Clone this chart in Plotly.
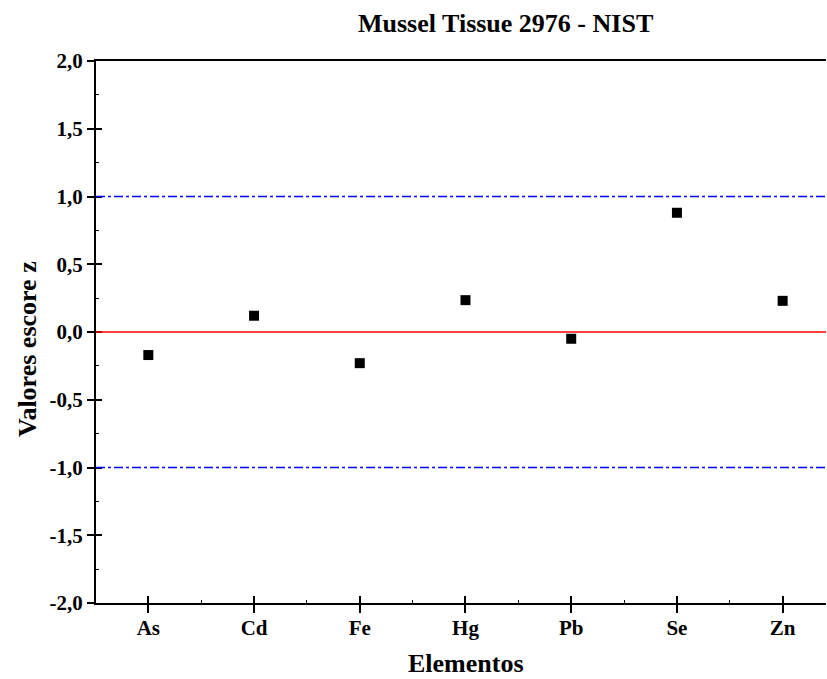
import plotly.graph_objects as go

elementos = ["As", "Cd", "Fe", "Hg", "Pb", "Se", "Zn"]
z_scores = [-0.17, 0.12, -0.23, 0.235, -0.05, 0.88, 0.23]
y_ticks = [-2.0, -1.5, -1.0, -0.5, 0.0, 0.5, 1.0, 1.5, 2.0]
y_ticktext = ["-2,0", "-1,5", "-1,0", "-0,5", "0,0", "0,5", "1,0", "1,5", "2,0"]

xpos = list(range(len(elementos)))
font = "Liberation Serif"

L, R, T, B = 96, 1, 61, 76
W, H = 827, 679
pw = W - L - R
ph = H - T - B

fig = go.Figure()
fig.add_trace(go.Scatter(
    x=xpos, y=z_scores, mode="markers",
    marker=dict(symbol="square", size=10, color="black"),
    showlegend=False, hoverinfo="x+y",
))

xr = [-0.495, 6.41]
fig.add_shape(type="line", xref="paper", x0=0, x1=1, yref="y", y0=0, y1=0,
              line=dict(color="red", width=1.6))
for v in (1, -1):
    fig.add_shape(type="line", xref="paper", x0=0, x1=1, yref="y", y0=v, y1=v,
                  line=dict(color="#0000ff", width=1.3, dash="dashdot"))

tickfont = dict(family=font, size=21, color="black", weight="bold")

fig.update_layout(
    width=W, height=H,
    margin=dict(l=L, r=R, t=T, b=B),
    plot_bgcolor="white", paper_bgcolor="white",
    font=dict(family=font, color="black"),
    xaxis=dict(
        range=xr, tickmode="array", tickvals=xpos, ticktext=elementos,
        ticks="outside", ticklen=8, tickwidth=1.5, tickcolor="black",
        ticklabelstandoff=-3,
        showline=True, linecolor="black", linewidth=2, mirror=True,
        showgrid=False, zeroline=False, tickfont=tickfont,
        minor=dict(tickmode="array", tickvals=[i + 0.5 for i in range(-1, 7)],
                   ticks="inside", ticklen=3, tickwidth=1, tickcolor="black"),
    ),
    yaxis=dict(
        range=[-2, 2], tickmode="array", tickvals=y_ticks, ticktext=y_ticktext,
        ticks="outside", ticklen=7, tickwidth=1.5, tickcolor="black",
        showline=True, linecolor="black", linewidth=2, mirror=False,
        showgrid=False, zeroline=False, tickfont=tickfont,
        minor=dict(tickmode="array", tickvals=[-1.75 + 0.5 * i for i in range(8)],
                   ticks="inside", ticklen=3, tickwidth=1, tickcolor="black"),
    ),
    xaxis2=dict(overlaying="x", matches="x", tickmode="array", tickvals=xpos,
                ticks="inside", ticklen=7, tickwidth=1.5, tickcolor="black",
                showticklabels=False, showline=False, showgrid=False, zeroline=False,
                side="bottom", anchor="y"),
    yaxis2=dict(overlaying="y", matches="y", tickmode="array", tickvals=y_ticks,
                ticks="inside", ticklen=6, tickwidth=1.5, tickcolor="black",
                showticklabels=False, showline=False, showgrid=False, zeroline=False,
                side="left", anchor="x"),
    annotations=[
        dict(text="<b>Mussel Tissue 2976 - NIST</b>", xref="paper", yref="paper",
             x=(505 - L) / pw, y=1 + (T - 23) / ph, xanchor="center", yanchor="middle",
             showarrow=False, font=dict(family=font, size=26, color="black")),
        dict(text="<b>Elementos</b>", xref="paper", yref="paper",
             x=(466 - L) / pw, y=-(663 - (H - B)) / ph, xanchor="center", yanchor="middle",
             showarrow=False, font=dict(family=font, size=26, color="black")),
        dict(text="<b>Valores escore z</b>", xref="paper", yref="paper",
             x=-(L - 27) / pw, y=1 - (349 - T) / ph, xanchor="center", yanchor="middle",
             textangle=-90, showarrow=False, font=dict(family=font, size=26, color="black")),
    ],
)
fig.add_trace(go.Scatter(x=[0], y=[0], xaxis="x2", yaxis="y2", mode="markers",
                         marker=dict(opacity=0), showlegend=False, hoverinfo="skip"))

fig.write_html("out.html")
